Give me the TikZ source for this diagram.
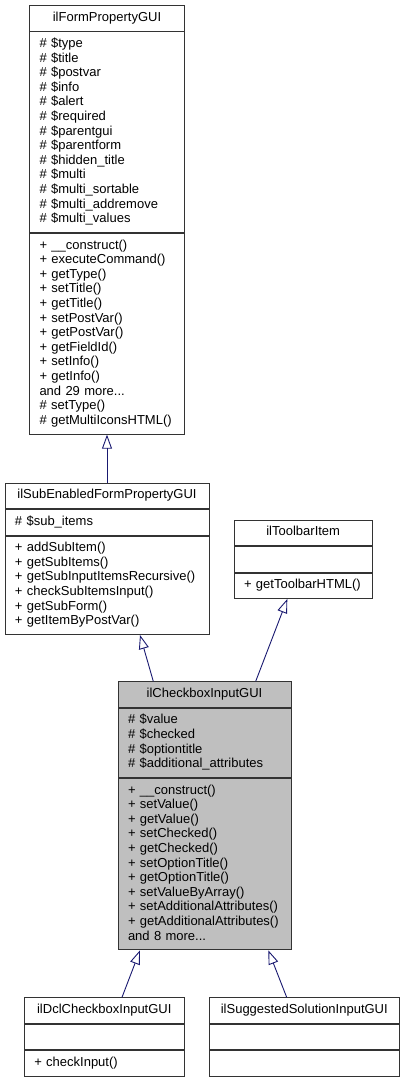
\documentclass[tikz,border=0pt]{standalone}
\usepackage{fontspec}
\setmainfont{Liberation Sans}
\usetikzlibrary{positioning,arrows.meta}
\definecolor{edgeblue}{HTML}{191970}
\definecolor{boxgray}{HTML}{BFBFBF}
\tikzset{  part/.style={draw=black!80,fill=white,line width=0.9pt,inner xsep=10pt,inner ysep=5.45pt,align=left,text width=#1,
    font=\fontsize{13}{14.6}\selectfont,execute at begin node=\strut,execute at end node=\strut},
  head/.style={part=#1,align=center},
  inh/.style={draw=edgeblue,line width=0.9pt,-{Triangle[open,length=14pt,width=10pt]}} }

\begin{document}
\begin{tikzpicture}[x=1pt,y=-1pt]
   \useasboundingbox (0,0) rectangle (405,1080);
   % classes
   \node[head=135pt] (fp) at (107,18.25) {ilFormPropertyGUI};
   \node[part=135pt,below=0pt of fp] (fpa) {\# \$type\\\# \$title\\\# \$postvar\\\# \$info\\\# \$alert\\\# \$required\\\# \$parentgui\\\# \$parentform\\\# \$hidden\_title\\\# \$multi\\\# \$multi\_sortable\\\# \$multi\_addremove\\\# \$multi\_values};
   \node[part=135pt,below=0pt of fpa] (fpm) {+ \_\_construct()\\+ executeCommand()\\+ getType()\\+ setTitle()\\+ getTitle()\\+ setPostVar()\\+ getPostVar()\\+ getFieldId()\\+ setInfo()\\+ getInfo()\\and 29 more...\\\# setType()\\\# getMultiIconsHTML()};
   \node[head=184pt] (sub) at (107,496) {ilSubEnabledFormPropertyGUI};
   \node[part=184pt,below=0pt of sub] (suba) {\# \$sub\_items};
   \node[part=184pt,below=0pt of suba] (subm) {+ addSubItem()\\+ getSubItems()\\+ getSubInputItemsRecursive()\\+ checkSubItemsInput()\\+ getSubForm()\\+ getItemByPostVar()};
   \node[head=118.3pt] (tb) at (303.2,533) {ilToolbarItem};
   \node[part=118.3pt,below=0pt of tb] (tba) {};
   \node[part=118.3pt,below=0pt of tba] (tbm) {+ getToolbarHTML()};
   \node[head=153pt,fill=boxgray] (chk) at (204.5,694.5) {ilCheckboxInputGUI};
   \node[part=153pt,fill=boxgray,below=0pt of chk] (chka) {\# \$value\\\# \$checked\\\# \$optiontitle\\\# \$additional\_attributes};
   \node[part=153pt,fill=boxgray,below=0pt of chka] (chkm) {+ \_\_construct()\\+ setValue()\\+ getValue()\\+ setChecked()\\+ getChecked()\\+ setOptionTitle()\\+ getOptionTitle()\\+ setValueByArray()\\+ setAdditionalAttributes()\\+ getAdditionalAttributes()\\and 8 more...};
   \node[head=140pt] (dcl) at (104.3,1010.5) {ilDclCheckboxInputGUI};
   \node[part=140pt,below=0pt of dcl] (dcla) {};
   \node[part=140pt,below=0pt of dcla] (dclm) {+ checkInput()};
   \node[head=170pt] (sug) at (304.3,1010.5) {ilSuggestedSolutionInputGUI};
   \node[part=170pt,below=0pt of sug] (suga) {};
   \node[part=170pt,below=0pt of suga] (sugm) {};
   % inheritance
   \draw[inh] (sub.north) -- (fpm.south);
   \draw[inh] ([xshift=-51.2pt]chk.north) -- ([xshift=33pt]subm.south);
   \draw[inh] ([xshift=51.2pt]chk.north) -- ([xshift=-15.9pt]tbm.south);
   \draw[inh] ([xshift=17.7pt]dcl.north) -- ([xshift=-64.5pt]chkm.south);
   \draw[inh] ([xshift=-17.6pt]sug.north) -- ([xshift=63.8pt]chkm.south);
\end{tikzpicture}
\end{document}
